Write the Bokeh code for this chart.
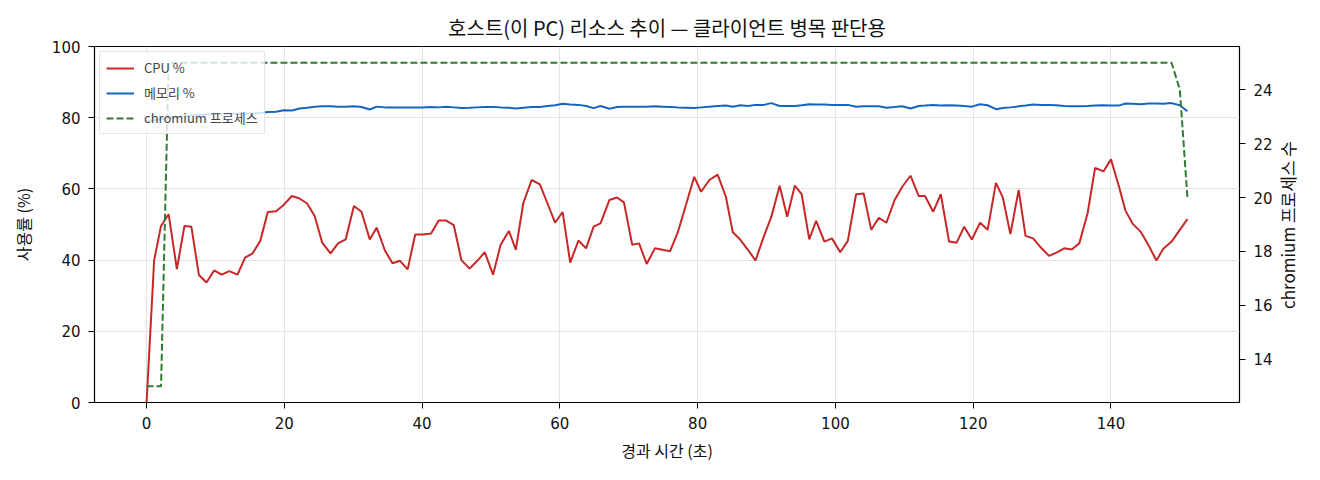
from bokeh.plotting import figure
from bokeh.models import Range1d, LinearAxis, Legend, LegendItem
from bokeh.embed import file_html
from bokeh.resources import INLINE
import math

FONT = "Noto Sans CJK KR"
NUM_FONT = "DejaVu Sans"

# elapsed seconds of each sample
t = [
    0.0, 1.1, 2.1, 3.2, 4.4, 5.5, 6.5, 7.6, 8.7, 9.8,
    10.9, 12.0, 13.2, 14.3, 15.4, 16.5, 17.6, 18.8, 19.9, 21.1,
    22.2, 23.3, 24.4, 25.5, 26.7, 27.8, 28.9, 30.1, 31.2, 32.4,
    33.4, 34.6, 35.7, 36.8, 37.9, 39.0, 40.1, 41.3, 42.4, 43.5,
    44.6, 45.7, 46.9, 48.0, 49.1, 50.3, 51.4, 52.6, 53.6, 54.7,
    55.9, 57.1, 58.2, 59.3, 60.4, 61.5, 62.7, 63.8, 64.9, 65.9,
    67.2, 68.3, 69.3, 70.5, 71.5, 72.6, 73.8, 74.9, 76.0, 77.1,
    78.3, 79.5, 80.5, 81.7, 82.9, 84.1, 85.1, 86.2, 87.3, 88.4,
    89.6, 90.7, 91.9, 93.0, 94.1, 95.1, 96.2, 97.2, 98.4, 99.5,
    100.7, 101.8, 103.0, 104.1, 105.2, 106.3, 107.4, 108.6, 109.7, 110.9,
    112.1, 113.0, 114.2, 115.3, 116.5, 117.6, 118.7, 119.8, 121.0, 122.1,
    123.3, 124.3, 125.4, 126.6, 127.6, 128.7, 129.8, 131.0, 132.1, 133.2,
    134.3, 135.4, 136.6, 137.7, 138.9, 140.0, 141.1, 142.1, 143.2, 144.3,
    145.5, 146.6, 147.6, 148.8, 150.0, 151.1,
]

cpu = [
    0.0, 40.0, 49.6, 52.9, 37.5, 49.6, 49.4, 35.8, 33.7, 37.1,
    35.9, 36.9, 35.9, 40.7, 41.9, 45.4, 53.5, 53.7, 55.5, 58.0,
    57.3, 55.9, 52.4, 44.9, 41.9, 44.7, 45.8, 55.2, 53.6, 45.8,
    49.1, 42.7, 39.1, 39.8, 37.4, 47.2, 47.2, 47.5, 51.1, 51.1,
    49.8, 40.0, 37.6, 39.8, 42.2, 35.9, 44.3, 48.2, 42.9, 56.1,
    62.5, 61.3, 55.9, 50.5, 53.5, 39.3, 45.5, 43.3, 49.4, 50.3,
    56.9, 57.6, 56.2, 44.3, 44.7, 38.9, 43.3, 42.9, 42.5, 47.7,
    55.5, 63.4, 59.2, 62.5, 64.0, 57.8, 47.8, 45.7, 42.9, 39.9,
    46.6, 52.2, 60.9, 52.2, 60.9, 58.5, 45.8, 51.0, 45.2, 46.1,
    42.2, 45.4, 58.5, 58.7, 48.5, 51.9, 50.5, 56.9, 60.6, 63.7,
    58.0, 58.0, 53.6, 58.5, 45.2, 44.9, 49.4, 45.8, 50.5, 48.5,
    61.7, 57.6, 47.3, 59.7, 46.8, 46.1, 43.6, 41.2, 42.1, 43.3,
    43.0, 44.7, 53.1, 65.9, 64.9, 68.3, 61.1, 53.9, 50.1, 48.0,
    44.0, 39.9, 43.2, 45.2, 48.5, 51.5,
]

mem = [
    79.1, 79.3, 79.6, 80.0, 80.2, 80.4, 80.6, 80.8, 80.9, 81.0,
    81.0, 81.1, 81.1, 81.2, 81.2, 81.3, 81.6, 81.7, 82.1, 82.0,
    82.6, 82.8, 83.1, 83.2, 83.2, 83.1, 83.1, 83.2, 83.0, 82.3,
    83.1, 82.9, 82.9, 82.9, 82.9, 82.9, 82.9, 83.0, 82.9, 83.1,
    82.9, 82.7, 82.8, 82.9, 83.0, 83.0, 82.9, 82.8, 82.6, 82.8,
    83.0, 83.0, 83.3, 83.5, 83.9, 83.7, 83.6, 83.3, 82.7, 83.3,
    82.5, 83.0, 83.1, 83.1, 83.1, 83.1, 83.2, 83.1, 83.0, 82.9,
    82.8, 82.7, 82.9, 83.1, 83.3, 83.4, 83.1, 83.5, 83.3, 83.6,
    83.6, 84.1, 83.3, 83.3, 83.3, 83.5, 83.8, 83.7, 83.7, 83.6,
    83.6, 83.6, 83.1, 83.2, 83.2, 83.2, 82.8, 83.0, 83.2, 82.6,
    83.3, 83.4, 83.6, 83.4, 83.5, 83.4, 83.3, 83.1, 83.8, 83.5,
    82.4, 82.7, 82.9, 83.2, 83.4, 83.7, 83.6, 83.6, 83.5, 83.3,
    83.2, 83.2, 83.3, 83.4, 83.5, 83.4, 83.4, 84.0, 83.9, 83.8,
    84.0, 84.0, 83.9, 84.1, 83.5, 81.8,
]

procs = [
    13, 13, 13, 25, 25, 25, 25, 25, 25, 25,
    25, 25, 25, 25, 25, 25, 25, 25, 25, 25,
    25, 25, 25, 25, 25, 25, 25, 25, 25, 25,
    25, 25, 25, 25, 25, 25, 25, 25, 25, 25,
    25, 25, 25, 25, 25, 25, 25, 25, 25, 25,
    25, 25, 25, 25, 25, 25, 25, 25, 25, 25,
    25, 25, 25, 25, 25, 25, 25, 25, 25, 25,
    25, 25, 25, 25, 25, 25, 25, 25, 25, 25,
    25, 25, 25, 25, 25, 25, 25, 25, 25, 25,
    25, 25, 25, 25, 25, 25, 25, 25, 25, 25,
    25, 25, 25, 25, 25, 25, 25, 25, 25, 25,
    25, 25, 25, 25, 25, 25, 25, 25, 25, 25,
    25, 25, 25, 25, 25, 25, 25, 25, 25, 25,
    25, 25, 25, 25, 24, 20,
]

x_ticks = [0, 20, 40, 60, 80, 100, 120, 140]
y_ticks = [0, 20, 40, 60, 80, 100]
proc_ticks = [14, 16, 18, 20, 22, 24]

W, H = 1320, 464
LEFT, RIGHT, TOP, BOTTOM = 94, 81, 46, 61

p = figure(width=W, height=H, output_backend="svg", toolbar_location=None,
           x_range=Range1d(-7.56, 158.66), y_range=Range1d(0, 100),
           min_border_left=LEFT, min_border_right=RIGHT,
           min_border_top=TOP, min_border_bottom=BOTTOM,
           title="호스트(이 PC) 리소스 추이 — 클라이언트 병목 판단용")
p.extra_y_ranges = {"proc": Range1d(12.4, 25.6)}

p.title.align = "center"
p.title.text_font = FONT
p.title.text_font_size = "20px"
p.title.text_font_style = "normal"
p.title.text_color = "#111111"

p.outline_line_color = "black"
p.outline_line_width = 1.2
p.background_fill_color = "white"
p.border_fill_color = "white"

r_cpu = p.line(t, cpu, line_color="#c62828", line_width=2)
r_mem = p.line(t, mem, line_color="#1565c0", line_width=2)
r_proc = p.line(t, procs, line_color="#2e7d32", line_width=2,
                line_dash="7 3", y_range_name="proc")

# the right title reads bottom to top; bokeh anchors a turned label at its
# first letter, so it starts from the bottom and is pushed up by wide spaces
right = LinearAxis(y_range_name="proc",
                   axis_label="\u2003" * 5 + "\u2002" + "chromium 프로세스 수")
p.add_layout(right, "right")
props = right.properties()
if "axis_label_orientation" in props:
    right.axis_label_orientation = math.pi / 2
if "axis_label_align" in props:
    right.axis_label_align = "start"

p.xaxis.ticker = x_ticks
p.yaxis[0].ticker = y_ticks
right.ticker = proc_ticks
p.xaxis.axis_label = "경과 시간 (초)"
p.yaxis[0].axis_label = "사용률 (%)"

for ax in [p.xaxis[0], p.yaxis[0], right]:
    ax.axis_line_color = None
    ax.major_tick_line_color = "black"
    ax.major_tick_out = 6
    ax.major_tick_in = 0
    ax.minor_tick_line_color = None
    ax.major_label_text_font = NUM_FONT
    ax.major_label_text_font_size = "15px"
    ax.major_label_text_color = "#111111"
    ax.axis_label_text_font = FONT
    ax.axis_label_text_font_size = "16px"
    ax.axis_label_text_font_style = "normal"
    ax.axis_label_text_color = "#111111"
    ax.major_label_standoff = 8

right.axis_label_text_font_size = "17px"
p.xaxis[0].axis_label_standoff = 6
p.yaxis[0].axis_label_standoff = 14
right.axis_label_standoff = 12

p.xgrid.ticker = x_ticks
p.ygrid.ticker = y_ticks
p.grid.grid_line_color = "#e3e3e3"
p.grid.grid_line_width = 1

legend = Legend(items=[
    LegendItem(label="CPU %", renderers=[r_cpu]),
    LegendItem(label="메모리 %", renderers=[r_mem]),
    LegendItem(label="chromium 프로세스", renderers=[r_proc]),
], location="top_left")
legend.label_text_font = FONT
legend.label_text_font_size = "13px"
legend.label_height = 16
legend.glyph_height = 16
legend.glyph_width = 28
legend.spacing = 6
legend.padding = 6
legend.margin = 5
legend.label_standoff = 10
legend.border_line_color = "#cccccc"
legend.background_fill_alpha = 0.8
p.add_layout(legend)

open("out.html", "w").write(file_html(p, INLINE))
